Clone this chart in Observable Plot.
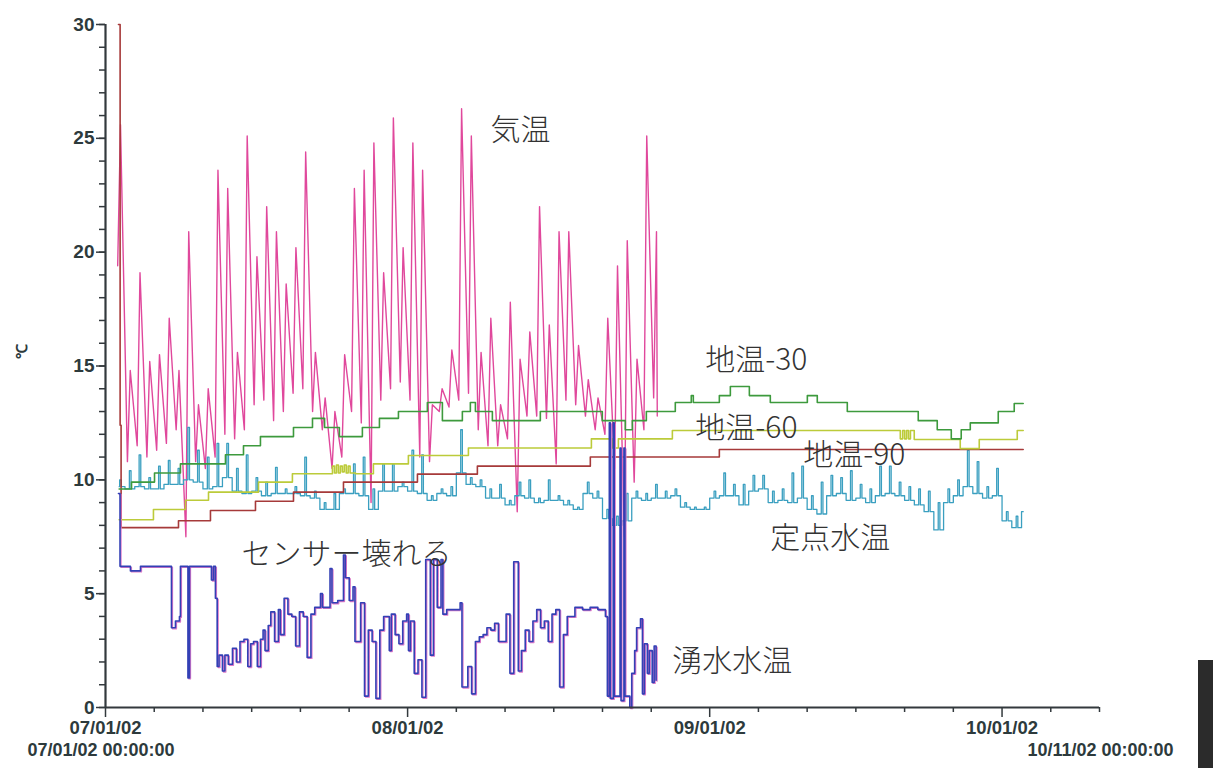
<!DOCTYPE html>
<html><head><meta charset="utf-8">
<script src="https://cdn.jsdelivr.net/npm/d3@7"></script>
<script src="https://cdn.jsdelivr.net/npm/@observablehq/plot@0.6"></script>
<style>
body{margin:0;background:#fff;}
#chart{position:relative;width:1213px;height:768px;overflow:hidden;}
#scanbar{position:absolute;left:1198px;top:660px;width:15px;height:108px;background:#2b2b2b;}
</style>
</head><body><div id="chart"><div id="scanbar"></div></div>
<script>
// ---- time base: days since 2002-07-01 00:00 ----
const T0 = Date.UTC(2002, 6, 1);
const day = d => new Date(T0 + d * 864e5);

// ---- 気温 (air temperature): daily morning minimum and afternoon maximum, 07/02 .. 08/26 ----
const airMin = [19.4,10.8,11.5,11.0,11.3,11.6,12.2,7.5,10.8,10.5,11.0,12.0,11.8,12.2,13.3,13.5,12.6,13.0,13.8,14.0,13.0,12.2,10.5,11.0,13.0,12.5,9.0,13.5,14.0,14.3,13.5,11.0,10.8,13.0,13.2,13.5,13.8,12.2,11.5,11.5,11.8,8.6,12.8,12.8,12.7,10.7,13.5,13.3,12.8,12.2,12.0,10.5,7.5,9.9,12.2,13.6];
const airMax = [25.6,14.8,19.1,15.2,15.5,17.1,14.8,20.9,13.3,14.0,23.6,22.8,15.6,25.1,19.8,22.0,20.9,18.6,20.2,24.4,15.6,13.6,13.0,15.5,22.8,23.6,24.8,19.1,25.9,20.2,24.8,23.6,13.3,14.0,15.7,26.3,25.1,15.6,17.1,13.3,17.8,15.3,16.5,22.0,16.8,20.9,20.9,15.9,14.4,13.6,17.1,19.4,20.5,15.3,25.1,20.9];
const airEnd = 12.8;

// ---- 定点水温 (fixed-point water temperature): daily base level and daily peak, 07/02 .. 10/04 ----
const waterBase = [9.7,9.6,9.7,9.6,9.6,9.8,9.8,10.0,9.9,9.6,
  9.7,10.1,9.5,9.4,9.5,9.3,9.4,9.4,9.4,9.3,
  9.2,8.7,8.7,9.4,9.4,9.3,8.7,9.5,9.5,9.7,
  9.5,9.4,9.1,9.4,9.3,10.3,9.8,9.7,9.2,9.2,
  8.9,9.3,9.2,9.0,9.1,9.1,8.9,8.7,9.4,9.2,
  8.3,8.0,8.2,9.2,9.1,9.2,9.2,9.3,8.8,8.7,
  8.7,9.2,9.3,9.3,8.9,9.5,9.6,9.0,9.1,9.0,
  9.2,8.7,8.5,9.3,9.4,9.1,9.2,9.0,9.3,9.4,
  9.3,9.1,8.9,8.6,7.8,9.0,9.3,9.7,9.4,9.2,
  9.3,8.2,7.9,8.6];
const waterPeak = [10.0,10.4,11.1,10.1,10.6,10.85,10.5,12.3,11.3,11.0,
  11.6,11.6,10.5,11.1,10.1,9.9,10.55,9.6,9.7,11.0,
  9.5,9.0,9.4,9.6,10.7,11.0,9.6,10.7,10.7,9.9,
  11.3,11.1,9.3,9.6,9.7,12.2,10.1,10.0,9.6,9.8,
  9.1,9.9,10.0,9.2,10.0,9.3,9.1,8.8,9.9,9.5,
  8.7,8.4,9.4,9.5,9.4,9.8,9.5,9.6,9.0,8.8,
  8.8,9.5,10.3,9.8,9.8,10.2,10.2,9.5,9.6,10.3,
  10.6,9.3,9.9,10.2,10.1,10.4,9.8,9.6,10.6,10.6,
  9.9,9.7,9.6,9.5,9.0,9.6,10.0,11.3,10.8,9.7,
  10.5,8.6,8.4,8.6];

// ---- 地温 (soil temperatures, step changes): day of change and new value ----
const soil30Day  = [1.4,2.67,5.03,7.69,12.31,14.16,15.9,19.29,21.24,22.48,24.0,26.36,28.11,30.06,33.03,34.57,36.62,37.44,37.96,39.7,44.62,50.98,53.34,54.06,55.5,58.47,60.11,60.32,62.99,64.12,66.07,68.22,72.02,73.04,76.12,83.4,85.35,86.79,87.81,88.74,91.61,93.25,94.17];
const soil30Temp = [9.6,9.9,10.3,10.7,11.1,11.5,11.9,12.3,12.7,12.3,11.9,12.3,12.7,13.0,13.4,12.6,13.0,13.4,13.0,12.6,13.0,12.6,12.2,12.6,13.0,13.4,13.7,13.4,13.7,14.1,13.7,13.4,13.7,13.4,13.0,12.6,12.2,11.8,12.2,12.5,13.0,13.35,13.35];
const soil60Day  = [1.4,4.92,8.21,10.57,15.7,19.18,23.29,23.5,23.7,23.9,24.1,24.3,24.5,24.7,24.9,25.1,25.65,27.49,31.08,37.24,49.86,52.01,52.63,58.17,81.56,81.8,82.0,82.2,82.4,82.6,82.99,87.71,89.66,93.56,94.17];
const soil60Temp = [8.25,8.7,9.1,9.46,9.9,10.27,10.6,10.3,10.65,10.3,10.6,10.35,10.65,10.3,10.6,10.3,10.27,10.7,11.07,11.4,11.8,11.4,11.8,12.17,11.8,12.17,11.8,12.17,11.8,12.17,11.77,11.37,11.77,12.17,12.17];
const soil90Day  = [1.33,1.5,1.6,7.49,10.77,15.39,19.29,24.42,32.01,38.16,49.75,62.99,94.17];
const soil90Temp = [30,12.4,7.9,8.2,8.65,9.06,9.46,9.9,10.25,10.6,11.0,11.33,11.33];

// ---- 湧水水温 (spring water temperature) ----
const springDay = [1.33,1.49,2.56,3.59,6.77,7.18,7.59,7.69,8.46,8.62,
  10.87,11.08,11.28,11.46,11.65,12.0,12.25,12.6,13.03,13.43,
  13.8,14.21,14.6,14.9,15.19,15.58,15.9,16.17,16.37,16.7,
  16.96,17.35,17.74,17.94,18.33,18.72,19.12,19.51,19.9,20.29,
  20.69,21.08,21.47,22.06,22.26,23.04,23.24,23.83,24.42,24.61,
  25.01,25.4,25.6,26.18,26.58,26.97,27.36,27.75,28.15,28.54,
  29.12,29.33,29.72,30.11,30.5,30.9,31.09,31.29,31.68,32.07,
  32.47,32.86,33.33,33.65,34.04,34.43,34.62,35.01,36.39,36.58,
  37.18,37.57,37.96,38.36,38.75,39.14,39.54,39.93,40.32,41.11,
  41.5,41.89,42.36,42.68,43.07,43.46,43.86,44.25,44.64,45.03,
  45.43,45.82,46.21,46.6,46.99,47.38,48.17,48.95,49.73,50.52,
  51.3,51.5,51.7,51.8,52.1,52.2,52.8,52.9,53.2,53.3,
  53.8,54.0,54.3,54.5,54.9,55.1,55.3,55.6,55.8,56.1,
  56.3,56.5];
const springTemp = [9.4,6.2,6.0,6.2,3.5,3.8,4.0,6.2,1.3,6.2,
  5.6,6.2,4.8,1.8,2.3,1.6,2.3,1.9,2.6,2.0,
  2.9,3.0,1.8,2.8,2.9,1.8,3.0,3.4,2.5,3.6,
  4.2,2.9,4.3,3.2,4.8,4.1,4.0,2.7,4.2,4.0,
  2.2,4.1,4.4,5.0,4.4,6.1,4.6,4.7,6.7,5.7,
  4.7,5.3,2.9,4.6,0.5,3.4,2.9,0.4,3.4,4.0,
  2.5,4.1,3.2,2.8,3.8,4.1,2.5,3.8,1.5,2.1,
  0.45,6.5,2.3,6.5,4.4,6.5,4.1,4.3,4.6,0.9,
  1.8,0.6,2.9,3.1,3.2,3.5,3.4,3.7,2.9,4.1,
  1.5,6.4,1.6,2.5,3.4,2.9,3.8,4.3,3.5,3.8,
  2.9,4.1,4.3,0.9,3.2,4.0,4.4,4.3,4.4,4.3,
  4.0,0.5,12.5,0.4,12.5,0.5,11.4,0.3,11.4,0.5,
  0.0,1.5,2.5,3.5,3.9,0.6,2.8,1.5,2.5,1.1,
  2.7,1.2];

// ---- axis ticks and annotations ----
const monthTicks = ["2002-07-01","2002-08-01","2002-09-01","2002-10-01"];
const minorTicks = ["2002-07-06","2002-07-11","2002-07-16","2002-07-21","2002-07-26",
  "2002-08-06","2002-08-11","2002-08-16","2002-08-21","2002-08-26",
  "2002-09-06","2002-09-11","2002-09-16","2002-09-21","2002-09-26",
  "2002-10-06","2002-10-11"];
const yMajor = [0,5,10,15,20,25,30];
const yMinor = d3.range(0, 31, 1);
const rangeStart = "07/01/02 00:00:00";
const rangeEnd = "10/11/02 00:00:00";
const unitLabel = "℃";
const labelText = ["気温","地温-30","地温-60","地温-90","定点水温","センサー壊れる","湧水水温"];
const labelDay  = [39.5, 61.55, 60.53, 71.6, 68.22, 13.95, 58.17];
const labelTemp = [25.34, 15.24, 12.25, 11.07, 7.42, 6.72, 2.02];

// ---- build tables ----
const air = [];
airMin.forEach((v, i) => {
  air.push({t: day(1 + i + 0.25), v});
  air.push({t: day(1 + i + 0.54), v: airMax[i]});
});
air.push({t: day(56.62), v: airEnd});

const water = [];
waterBase.forEach((b, i) => {
  const d = i + 1;
  if (d === 94) { water.push({t: day(94), v: b}); water.push({t: day(94.17), v: b}); return; }
  water.push({t: day(d === 1 ? 1.4 : d), v: b});
  water.push({t: day(d + 0.45), v: waterPeak[i]});
  water.push({t: day(d + 0.62), v: b});
});

const zip = (ds, vs) => ds.map((d, i) => ({t: day(d), v: vs[i]}));
const soil30 = zip(soil30Day, soil30Temp);
const soil60 = zip(soil60Day, soil60Temp);
const soil90 = zip(soil90Day, soil90Temp);
const spring = zip(springDay, springTemp);

const utc = s => new Date(s + "T00:00:00Z");
const fmt = d3.utcFormat("%m/%d/%y");
const axisColor = "#33393d";
const textColor = "#2d3a3c";
const sans = "Liberation Sans, Arial, Helvetica, sans-serif";
const cjk = "Noto Sans CJK JP, sans-serif";

const chart = Plot.plot({
  width: 1213, height: 768,
  marginLeft: 105, marginRight: 114, marginTop: 24, marginBottom: 61,
  style: {background: "#fff", fontFamily: sans, overflow: "visible"},
  x: {type: "utc", domain: [day(0), day(102)], label: null},
  y: {domain: [0, 30], label: null},
  marks: [
    Plot.line(air, {x: "t", y: "v", stroke: "#e0489c", strokeWidth: 1.4}),
    Plot.line(water, {x: "t", y: "v", stroke: "#3a9fc0", strokeWidth: 1.3, curve: "step-after"}),
    Plot.line(soil90, {x: "t", y: "v", stroke: "#a63a3a", strokeWidth: 1.6, curve: "step-after"}),
    Plot.line(soil60, {x: "t", y: "v", stroke: "#bccb3a", strokeWidth: 1.6, curve: "step-after"}),
    Plot.line(soil30, {x: "t", y: "v", stroke: "#3d9a3d", strokeWidth: 1.6, curve: "step-after"}),
    Plot.line(spring, {x: "t", y: "v", stroke: "#e07ac8", strokeWidth: 1.3, curve: "step-after", dx: 1, dy: 1}),
    Plot.line(spring, {x: "t", y: "v", stroke: "#3340b5", strokeWidth: 1.6, curve: "step-after"}),
    Plot.ruleY([0], {stroke: axisColor, strokeWidth: 2.2}),
    Plot.ruleX([day(0)], {stroke: axisColor, strokeWidth: 2.2}),
    Plot.axisY(yMinor, {tickSize: 6, tickFormat: () => "", stroke: axisColor, strokeWidth: 1.5, label: null}),
    Plot.axisY(yMajor, {tickSize: 9, tickPadding: 2, fontSize: 19, fontWeight: "bold", fill: textColor, stroke: axisColor, strokeWidth: 1.5, label: null}),
    Plot.axisX(minorTicks.map(utc), {tickSize: 5, tickFormat: () => "", stroke: axisColor, strokeWidth: 1.5, label: null}),
    Plot.axisX(monthTicks.map(utc), {tickSize: 10, tickPadding: 3, tickFormat: fmt, fontSize: 18.5, fontWeight: "bold", fill: textColor, stroke: axisColor, strokeWidth: 1.5, label: null}),
    Plot.text([rangeStart], {frameAnchor: "bottom-left", textAnchor: "start", dx: -78, dy: 48, fontSize: 18, fontWeight: "bold", fill: textColor}),
    Plot.text([rangeEnd], {frameAnchor: "bottom-right", textAnchor: "middle", dx: 1, dy: 48, fontSize: 18, fontWeight: "bold", fill: textColor}),
    Plot.text([unitLabel], {frameAnchor: "left", dx: -83, dy: -7, rotate: -90, fontSize: 15, fontWeight: "bold", fill: textColor}),
    Plot.text(labelText, {x: (d, i) => day(labelDay[i]), y: (d, i) => labelTemp[i], text: d => d, textAnchor: "start", fontSize: 30, fontFamily: cjk, fontWeight: 300, fill: "#333"})
  ]
});
document.getElementById("chart").prepend(chart);
</script></body></html>
